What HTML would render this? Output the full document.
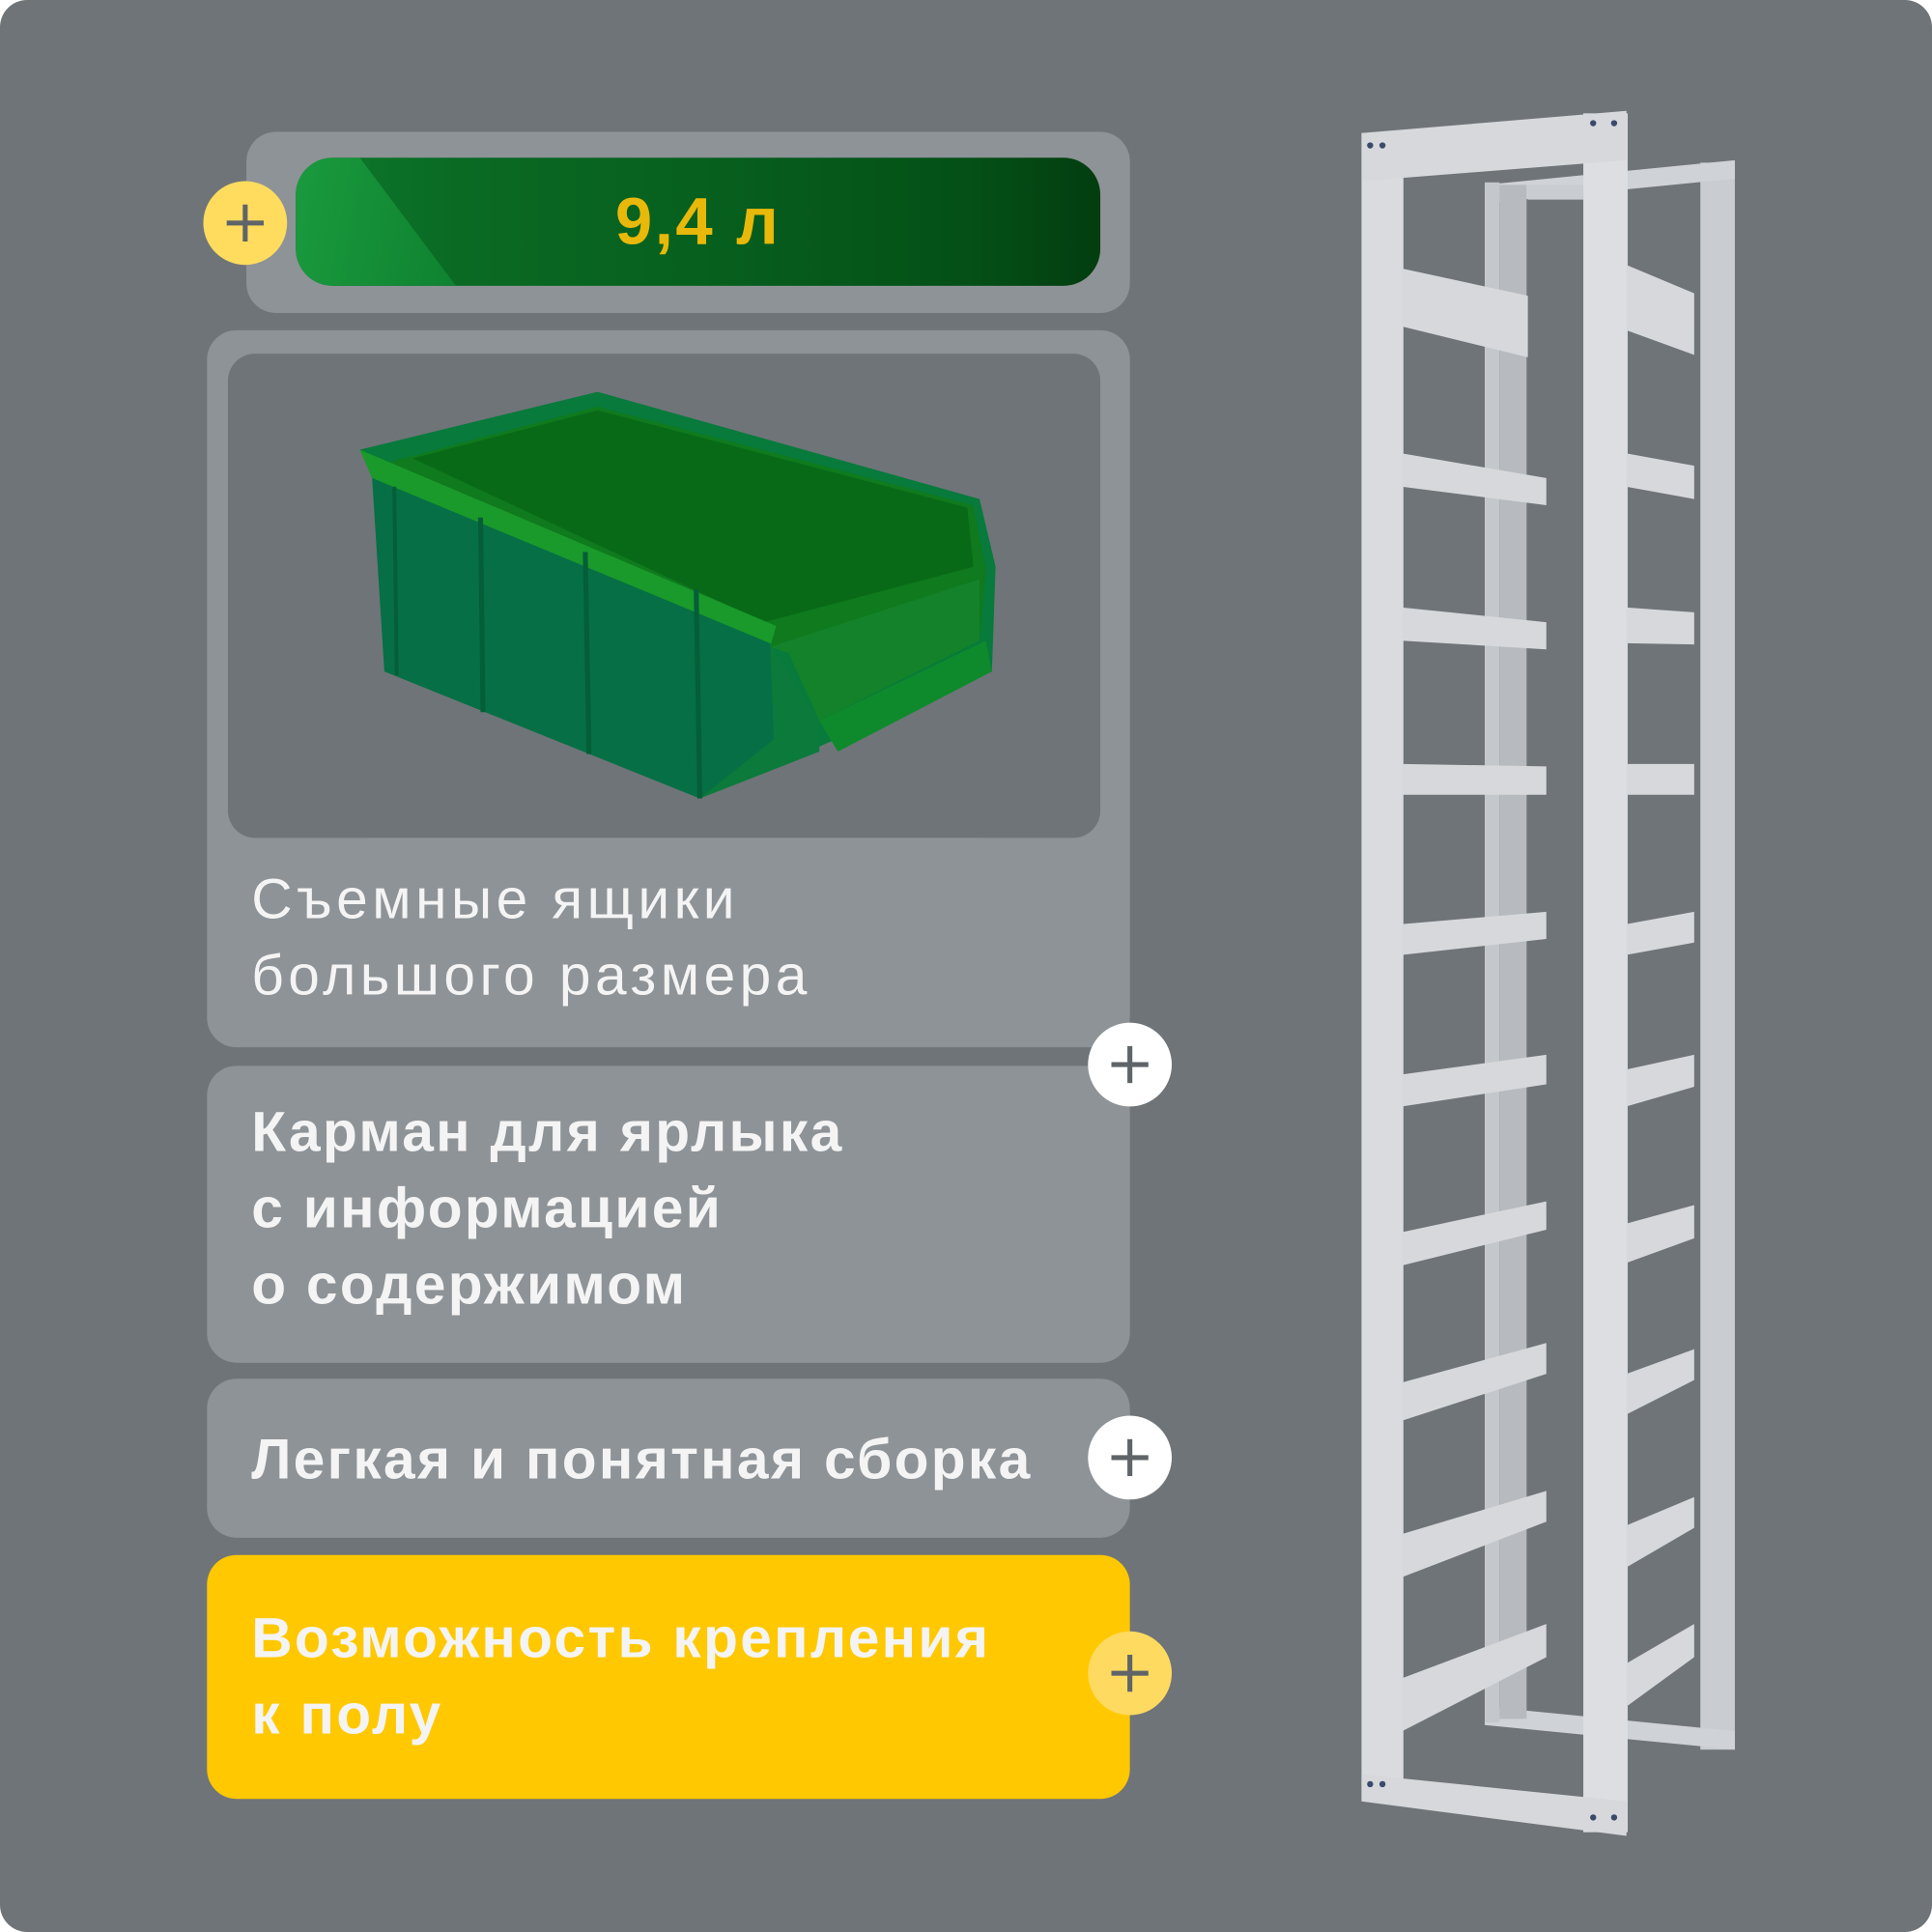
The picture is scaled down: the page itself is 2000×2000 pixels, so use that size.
<!DOCTYPE html>
<html><head><meta charset="utf-8"><style>
html,body{margin:0;padding:0;background:#fff;}
#wrap{width:2000px;height:2000px;overflow:hidden;position:relative;}
#s{width:1568px;height:1568px;position:absolute;left:0;top:0;transform:scale(1.27551);transform-origin:0 0;background:#6f7478;border-radius:22px;overflow:hidden;font-family:"Liberation Sans",sans-serif;}
.card{position:absolute;background:#8e9397;border-radius:24px;}
.t{position:absolute;left:204px;color:#f4f4f4;font-size:46px;line-height:62px;letter-spacing:3.5px;}
.b{font-weight:bold;font-size:46px;letter-spacing:1.8px;}
.plus{position:absolute;width:68px;height:68px;border-radius:50%;margin:-34px 0 0 -34px;display:flex;align-items:center;justify-content:center;z-index:5;}
.plus:before,.plus:after{content:"";position:absolute;background:#5f6468;}
.plus:before{width:30px;height:4px;}
.plus:after{width:4px;height:30px;}
</style></head><body><div id="wrap"><div id="s">
<div class="card" style="left:200px;top:107px;width:717px;height:147px;"></div>
<div style="position:absolute;left:240px;top:128px;width:653px;height:104px;border-radius:30px;background:linear-gradient(90deg,#0d7a2c 0%,#0a6a24 20%,#07601e 50%,#044f16 85%,#033d10 100%);overflow:hidden;">
<div style="position:absolute;left:0;top:0;width:130px;height:104px;background:linear-gradient(100deg,#1a9a3e,#0f8230);clip-path:polygon(0 0,40% 0,100% 100%,0 100%);"></div>
<div style="position:absolute;left:0;top:0;width:653px;text-align:center;line-height:104px;font-weight:bold;font-size:54px;color:#e8b90a;letter-spacing:2px;">9,4 л</div>
</div>
<div class="plus" style="left:199px;top:181px;background:#ffdc5e;"></div>

<div class="card" style="left:168px;top:268px;width:749px;height:582px;"></div>
<div style="position:absolute;left:185px;top:287px;width:708px;height:393px;border-radius:22px;background:#6f7478;"></div>
<svg style="position:absolute;left:0;top:0" width="1568" height="1568">
<polygon points="292,365 485,318 795,405 808,460 805,545 568,648 312,545 302,385" fill="#077a3c"/>
<polygon points="305,378 485,330 790,410 800,462 795,520 625,525" fill="#0f7a1e"/>
<polygon points="335,372 485,333 785,412 790,460 620,505" fill="#086a16"/>
<polygon points="625,525 795,470 795,520 665,585 640,530" fill="#14822a"/>
<polygon points="292,365 302,388 625,525 630,508 " fill="#1a9a2a"/>
<polygon points="302,388 625,522 628,600 568,648 312,545" fill="#066f45"/>
<polygon points="625,522 665,585 665,610 568,648 628,600" fill="#0b7a3a"/>
<polygon points="665,585 800,520 805,545 680,610" fill="#0e8a2c"/>
<line x1="390" y1="420" x2="392" y2="578" stroke="#055e38" stroke-width="4"/>
<line x1="475" y1="448" x2="478" y2="612" stroke="#055e38" stroke-width="4"/>
<line x1="565" y1="478" x2="568" y2="648" stroke="#055e38" stroke-width="4"/>
<line x1="320" y1="395" x2="322" y2="548" stroke="#055e38" stroke-width="3"/>
</svg>
<div class="t" style="top:698px;">Съемные ящики<br>большого размера</div>

<div class="card" style="left:168px;top:865px;width:749px;height:241px;"></div>
<div class="t b" style="top:887px;">Карман для ярлыка<br>с информацией<br>о содержимом</div>

<div class="card" style="left:168px;top:1119px;width:749px;height:129px;"></div>
<div class="t b" style="top:1153px;">Легкая и понятная сборка</div>

<div class="card" style="left:168px;top:1262px;width:749px;height:198px;background:#ffc800;"></div>
<div class="t b" style="top:1298px;">Возможность крепления<br>к полу</div>

<div class="plus" style="left:917px;top:864px;background:#fff;"></div>
<div class="plus" style="left:917px;top:1183px;background:#fff;"></div>
<div class="plus" style="left:917px;top:1358px;background:#ffda60;"></div>

<svg style="position:absolute;left:0;top:0" width="1568" height="1568">
<g fill="#d6d8dc">
<rect x="1380" y="132" width="28" height="1288" fill="#c9ccd0"/>
<polygon points="1205,150 1408,130 1408,145 1205,165" fill="#cfd2d6"/>
<polygon points="1205,1385 1408,1405 1408,1420 1205,1400" fill="#cfd2d6"/>
<rect x="1205" y="148" width="12" height="1250" fill="#c4c7cb"/>
<rect x="1217" y="150" width="22" height="1245" fill="#b7babe"/>
<rect x="1105" y="108" width="34" height="1352" fill="#d9dbdf"/>
<rect x="1285" y="92" width="36" height="1395" fill="#dcdee2"/>
<polygon points="1105,108 1320,90 1320,130 1105,147"/>
<polygon points="1105,1440 1320,1462 1320,1490 1105,1462"/>
<rect x="1240" y="150" width="45" height="12" fill="#c9ccd0"/>
<polygon points="1138,218 1240,240 1240,290 1138,265"/>
<polygon points="1138,368 1255,388 1255,410 1138,395"/>
<polygon points="1138,493 1255,505 1255,527 1138,520"/>
<polygon points="1138,620 1255,622 1255,645 1138,645"/>
<polygon points="1138,750 1255,740 1255,762 1138,775"/>
<polygon points="1138,872 1255,856 1255,880 1138,898"/>
<polygon points="1138,1000 1255,975 1255,998 1138,1027"/>
<polygon points="1138,1122 1255,1090 1255,1115 1138,1153"/>
<polygon points="1138,1245 1255,1210 1255,1235 1138,1280"/>
<polygon points="1138,1362 1255,1318 1255,1345 1138,1405"/>
<polygon points="1320,215 1375,238 1375,288 1320,268"/>
<polygon points="1320,368 1375,378 1375,405 1320,395"/>
<polygon points="1320,493 1375,497 1375,523 1320,522"/>
<polygon points="1320,620 1375,620 1375,645 1320,645"/>
<polygon points="1320,750 1375,740 1375,765 1320,775"/>
<polygon points="1320,868 1375,856 1375,882 1320,898"/>
<polygon points="1320,993 1375,978 1375,1005 1320,1025"/>
<polygon points="1320,1115 1375,1095 1375,1120 1320,1148"/>
<polygon points="1320,1238 1375,1215 1375,1240 1320,1272"/>
<polygon points="1320,1350 1375,1318 1375,1345 1320,1385"/>
</g>
<g fill="#3b4a6a">
<circle cx="1293" cy="100" r="2.5"/><circle cx="1310" cy="100" r="2.5"/><circle cx="1112" cy="118" r="2.5"/><circle cx="1122" cy="118" r="2.5"/>
<circle cx="1112" cy="1448" r="2.5"/><circle cx="1122" cy="1448" r="2.5"/><circle cx="1293" cy="1475" r="2.5"/><circle cx="1310" cy="1475" r="2.5"/>
</g>
</svg>
</div></div></body></html>
